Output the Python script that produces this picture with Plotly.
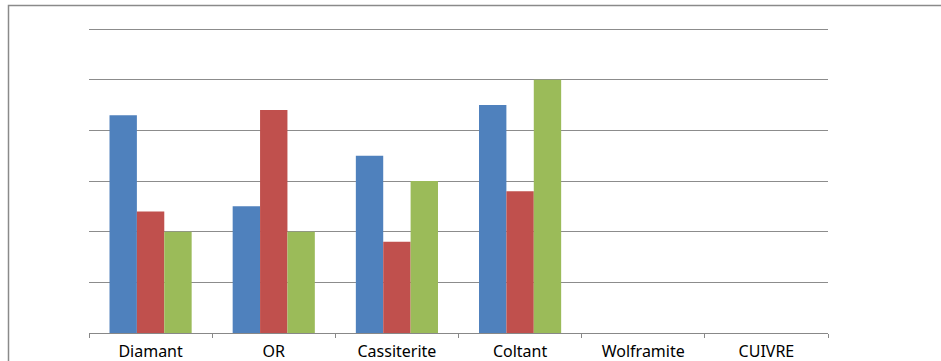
import plotly.graph_objects as go

# Minerals along the category axis
categories = ["Diamant", "OR", "Cassiterite", "Coltant", "Wolframite", "CUIVRE"]

# Three series per mineral (no data for Wolframite and CUIVRE)
series_1 = [43, 25, 35, 45, None, None]
series_2 = [24, 44, 18, 28, None, None]
series_3 = [20, 20, 30, 50, None, None]

colors = ["#4F81BD", "#C0504D", "#9BBB59"]

fig = go.Figure()
for name, vals, col in zip(["Série 1", "Série 2", "Série 3"],
                           [series_1, series_2, series_3], colors):
    fig.add_trace(go.Bar(x=categories, y=vals, name=name,
                         marker=dict(color=col, line=dict(width=0))))

# Value 0 sits at y=333 px and value 60 at y=29 px; the axis runs a bit
# past 60 so that its top gridline is drawn
Y_MAX = 61
L, R, B = 89, 828, 333
px_per_unit = (333 - 29) / 60
T = B - Y_MAX * px_per_unit
W, H = 941, 361
pw, ph = R - L, B - T

def px_x(x):
    return (x - L) / pw

def px_y(y):
    return (B - y) / ph

fig.update_layout(
    width=W, height=H,
    margin=dict(l=L, r=W - R, t=T, b=H - B, autoexpand=False),
    paper_bgcolor="white", plot_bgcolor="white",
    barmode="group", bargap=0.333, bargroupgap=0,
    showlegend=False,
    font=dict(family="Noto Sans, Open Sans, sans-serif", size=16, color="#000000"),
    xaxis=dict(
        type="category", automargin=False,
        showline=True, linecolor="#888888", linewidth=1.3,
        ticks="outside", tickson="boundaries", ticklen=4,
        tickcolor="#888888", tickwidth=1.3,
        showgrid=False,
        tickfont=dict(size=16), ticklabelstandoff=4,
    ),
    yaxis=dict(
        range=[0, Y_MAX], tick0=0, dtick=10, showticklabels=False,
        automargin=False,
        showgrid=True, gridcolor="#8C8C8C", gridwidth=1.3,
        zeroline=False, showline=False, ticks="",
    ),
    shapes=[
        # chart frame, running past the right and bottom edges
        dict(type="rect", xref="paper", yref="paper",
             x0=px_x(8.5), x1=px_x(960), y0=px_y(380), y1=px_y(5.5),
             line=dict(color="#8A8A8A", width=1.5), fillcolor="rgba(0,0,0,0)",
             layer="below"),
    ],
)

fig.write_html("out.html")
